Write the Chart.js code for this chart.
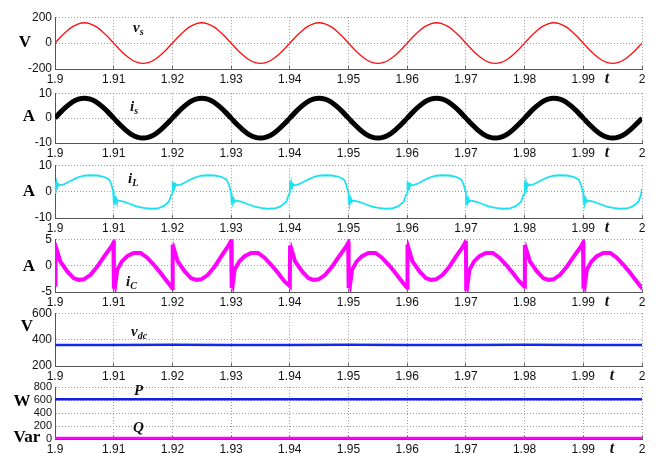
<!DOCTYPE html>
<html>
<head>
<meta charset="utf-8">
<script src="https://cdn.jsdelivr.net/npm/chart.js@4.4.0/dist/chart.umd.min.js"></script>
<style>
body { margin: 0; background: #fff; }
#wrap { position: relative; width: 658px; height: 453px; overflow: hidden; background: #fff; }
#wrap canvas { position: absolute; left: 0; }
.lbl { position: absolute; font-family: "Liberation Serif", "Times New Roman", serif; font-weight: bold; color: #000; white-space: nowrap; line-height: 1; }
.unit { font-size: 17px; transform: translate(-50%, -50%); }
.sym { font-style: italic; font-size: 15px; transform: translateY(-50%); color: #111; }
.sym sub { font-size: 10px; vertical-align: -3px; line-height: 1; }
.tt { font-style: italic; font-size: 16px; transform: translate(-50%, -50%); color: #111; }
</style>
</head>
<body>
<div id="wrap">
  <div class="lbl unit" style="left:25px;top:41px">V</div>
  <div class="lbl unit" style="left:29px;top:115px">A</div>
  <div class="lbl unit" style="left:29px;top:190px">A</div>
  <div class="lbl unit" style="left:29px;top:265px">A</div>
  <div class="lbl unit" style="left:27px;top:325px">V</div>
  <div class="lbl unit" style="left:22px;top:400px">W</div>
  <div class="lbl unit" style="left:27px;top:436px">Var</div>

  <div class="lbl sym" style="left:133px;top:28px">v<sub>s</sub></div>
  <div class="lbl sym" style="left:130px;top:107px">i<sub>s</sub></div>
  <div class="lbl sym" style="left:128px;top:179px">i<sub>L</sub></div>
  <div class="lbl sym" style="left:126px;top:282px">i<sub>C</sub></div>
  <div class="lbl sym" style="left:131px;top:332px">v<sub>dc</sub></div>
  <div class="lbl sym" style="left:134px;top:390px">P</div>
  <div class="lbl sym" style="left:133px;top:427px">Q</div>

  <div class="lbl tt" style="left:607px;top:78px">t</div>
  <div class="lbl tt" style="left:607px;top:152px">t</div>
  <div class="lbl tt" style="left:607px;top:227px">t</div>
  <div class="lbl tt" style="left:607px;top:301px">t</div>
  <div class="lbl tt" style="left:612px;top:375px">t</div>
  <div class="lbl tt" style="left:612px;top:448px">t</div>
</div>
<script>
// x axis (time, s)
const xTicks = [1.9, 1.91, 1.92, 1.93, 1.94, 1.95, 1.96, 1.97, 1.98, 1.99, 2.0];
const xTickLabels = ['1.9', '1.91', '1.92', '1.93', '1.94', '1.95', '1.96', '1.97', '1.98', '1.99', '2'];

// y ticks per panel
const vsTicks = [-200, 0, 200];
const isTicks = [-10, 0, 10];
const iLTicks = [-10, 0, 10];
const iCTicks = [-5, 0, 5];
const vdcTicks = [200, 400, 600];
const pqTicks = [0, 200, 400, 600, 800];

// sampled every 1 ms
const t = [
  1.9, 1.901, 1.902, 1.903, 1.904, 1.905, 1.906, 1.907, 1.908, 1.909,
  1.91, 1.911, 1.912, 1.913, 1.914, 1.915, 1.916, 1.917, 1.918, 1.919,
  1.92, 1.921, 1.922, 1.923, 1.924, 1.925, 1.926, 1.927, 1.928, 1.929,
  1.93, 1.931, 1.932, 1.933, 1.934, 1.935, 1.936, 1.937, 1.938, 1.939,
  1.94, 1.941, 1.942, 1.943, 1.944, 1.945, 1.946, 1.947, 1.948, 1.949,
  1.95, 1.951, 1.952, 1.953, 1.954, 1.955, 1.956, 1.957, 1.958, 1.959,
  1.96, 1.961, 1.962, 1.963, 1.964, 1.965, 1.966, 1.967, 1.968, 1.969,
  1.97, 1.971, 1.972, 1.973, 1.974, 1.975, 1.976, 1.977, 1.978, 1.979,
  1.98, 1.981, 1.982, 1.983, 1.984, 1.985, 1.986, 1.987, 1.988, 1.989,
  1.99, 1.991, 1.992, 1.993, 1.994, 1.995, 1.996, 1.997, 1.998, 1.999,
  2.0
];

const vs = [
  0, 49, 92, 127, 149, 157, 149, 127, 92, 49, 0, -49, -92, -127, -149, -157, -149, -127, -92, -49,
  0, 49, 92, 127, 149, 157, 149, 127, 92, 49, 0, -49, -92, -127, -149, -157, -149, -127, -92, -49,
  0, 49, 92, 127, 149, 157, 149, 127, 92, 49, 0, -49, -92, -127, -149, -157, -149, -127, -92, -49,
  0, 49, 92, 127, 149, 157, 149, 127, 92, 49, 0, -49, -92, -127, -149, -157, -149, -127, -92, -49,
  0, 49, 92, 127, 149, 157, 149, 127, 92, 49, 0, -49, -92, -127, -149, -157, -149, -127, -92, -49,
  0
];

const is = [
  0, 2.5, 4.7, 6.5, 7.6, 8, 7.6, 6.5, 4.7, 2.5, 0, -2.5, -4.7, -6.5, -7.6, -8, -7.6, -6.5, -4.7, -2.5,
  0, 2.5, 4.7, 6.5, 7.6, 8, 7.6, 6.5, 4.7, 2.5, 0, -2.5, -4.7, -6.5, -7.6, -8, -7.6, -6.5, -4.7, -2.5,
  0, 2.5, 4.7, 6.5, 7.6, 8, 7.6, 6.5, 4.7, 2.5, 0, -2.5, -4.7, -6.5, -7.6, -8, -7.6, -6.5, -4.7, -2.5,
  0, 2.5, 4.7, 6.5, 7.6, 8, 7.6, 6.5, 4.7, 2.5, 0, -2.5, -4.7, -6.5, -7.6, -8, -7.6, -6.5, -4.7, -2.5,
  0, 2.5, 4.7, 6.5, 7.6, 8, 7.6, 6.5, 4.7, 2.5, 0, -2.5, -4.7, -6.5, -7.6, -8, -7.6, -6.5, -4.7, -2.5,
  0
];

// load current, denser around the switching instants
const tL = [
  1.9, 1.90005, 1.90015, 1.90025, 1.9004, 1.90055, 1.90075, 1.9015, 1.9026, 1.9037, 1.9049, 1.906, 1.9072, 1.9083, 1.9092, 1.9096, 1.9099,
  1.91, 1.91005, 1.91015, 1.91025, 1.9104, 1.91055, 1.91075, 1.9117, 1.9128, 1.914, 1.9151, 1.9162, 1.9174, 1.9185, 1.9194, 1.9198,
  1.92, 1.92005, 1.92015, 1.92025, 1.9204, 1.92055, 1.92075, 1.9215, 1.9226, 1.9237, 1.9249, 1.926, 1.9272, 1.9283, 1.9292, 1.9296, 1.9299,
  1.93, 1.93005, 1.93015, 1.93025, 1.9304, 1.93055, 1.93075, 1.9317, 1.9328, 1.934, 1.9351, 1.9362, 1.9374, 1.9385, 1.9394, 1.9398,
  1.94, 1.94005, 1.94015, 1.94025, 1.9404, 1.94055, 1.94075, 1.9415, 1.9426, 1.9437, 1.9449, 1.946, 1.9472, 1.9483, 1.9492, 1.9496, 1.9499,
  1.95, 1.95005, 1.95015, 1.95025, 1.9504, 1.95055, 1.95075, 1.9517, 1.9528, 1.954, 1.9551, 1.9562, 1.9574, 1.9585, 1.9594, 1.9598,
  1.96, 1.96005, 1.96015, 1.96025, 1.9604, 1.96055, 1.96075, 1.9615, 1.9626, 1.9637, 1.9649, 1.966, 1.9672, 1.9683, 1.9692, 1.9696, 1.9699,
  1.97, 1.97005, 1.97015, 1.97025, 1.9704, 1.97055, 1.97075, 1.9717, 1.9728, 1.974, 1.9751, 1.9762, 1.9774, 1.9785, 1.9794, 1.9798,
  1.98, 1.98005, 1.98015, 1.98025, 1.9804, 1.98055, 1.98075, 1.9815, 1.9826, 1.9837, 1.9849, 1.986, 1.9872, 1.9883, 1.9892, 1.9896, 1.9899,
  1.99, 1.99005, 1.99015, 1.99025, 1.9904, 1.99055, 1.99075, 1.9917, 1.9928, 1.994, 1.9951, 1.9962, 1.9974, 1.9985, 1.9994, 1.9998,
  2.0
];
const iL = [
  -0.5, 3.8, 0.8, 3.4, 1.6, 2.9, 2.4, 2.7, 4.0, 5.2, 6.0, 6.2, 6.1, 5.6, 4.6, 2.8, 0.3,
  -0.5, -4.6, -1.8, -4.2, -2.6, -3.9, -3.4, -3.8, -4.7, -5.7, -6.2, -6.5, -6.4, -5.5, -3.8, -1.3,
  -0.5, 3.8, 0.8, 3.4, 1.6, 2.9, 2.4, 2.7, 4.0, 5.2, 6.0, 6.2, 6.1, 5.6, 4.6, 2.8, 0.3,
  -0.5, -4.6, -1.8, -4.2, -2.6, -3.9, -3.4, -3.8, -4.7, -5.7, -6.2, -6.5, -6.4, -5.5, -3.8, -1.3,
  -0.5, 3.8, 0.8, 3.4, 1.6, 2.9, 2.4, 2.7, 4.0, 5.2, 6.0, 6.2, 6.1, 5.6, 4.6, 2.8, 0.3,
  -0.5, -4.6, -1.8, -4.2, -2.6, -3.9, -3.4, -3.8, -4.7, -5.7, -6.2, -6.5, -6.4, -5.5, -3.8, -1.3,
  -0.5, 3.8, 0.8, 3.4, 1.6, 2.9, 2.4, 2.7, 4.0, 5.2, 6.0, 6.2, 6.1, 5.6, 4.6, 2.8, 0.3,
  -0.5, -4.6, -1.8, -4.2, -2.6, -3.9, -3.4, -3.8, -4.7, -5.7, -6.2, -6.5, -6.4, -5.5, -3.8, -1.3,
  -0.5, 3.8, 0.8, 3.4, 1.6, 2.9, 2.4, 2.7, 4.0, 5.2, 6.0, 6.2, 6.1, 5.6, 4.6, 2.8, 0.3,
  -0.5, -4.6, -1.8, -4.2, -2.6, -3.9, -3.4, -3.8, -4.7, -5.7, -6.2, -6.5, -6.4, -5.5, -3.8, -1.3,
  1.0
];

// filter (capacitor) current
const tC = [
  1.9, 1.90005, 1.90015, 1.9003, 1.9009, 1.9021, 1.9032, 1.9041, 1.9049, 1.906, 1.9072, 1.9083, 1.9092, 1.9097, 1.90995,
  1.91, 1.91005, 1.91015, 1.9103, 1.9106, 1.9114, 1.9123, 1.9134, 1.9146, 1.9157, 1.9168, 1.918, 1.9191, 1.9198,
  1.92, 1.92005, 1.92015, 1.9203, 1.9209, 1.9221, 1.9232, 1.9241, 1.9249, 1.926, 1.9272, 1.9283, 1.9292, 1.9297, 1.92995,
  1.93, 1.93005, 1.93015, 1.9303, 1.9306, 1.9314, 1.9323, 1.9334, 1.9346, 1.9357, 1.9368, 1.938, 1.9391, 1.9398,
  1.94, 1.94005, 1.94015, 1.9403, 1.9409, 1.9421, 1.9432, 1.9441, 1.9449, 1.946, 1.9472, 1.9483, 1.9492, 1.9497, 1.94995,
  1.95, 1.95005, 1.95015, 1.9503, 1.9506, 1.9514, 1.9523, 1.9534, 1.9546, 1.9557, 1.9568, 1.958, 1.9591, 1.9598,
  1.96, 1.96005, 1.96015, 1.9603, 1.9609, 1.9621, 1.9632, 1.9641, 1.9649, 1.966, 1.9672, 1.9683, 1.9692, 1.9697, 1.96995,
  1.97, 1.97005, 1.97015, 1.9703, 1.9706, 1.9714, 1.9723, 1.9734, 1.9746, 1.9757, 1.9768, 1.978, 1.9791, 1.9798,
  1.98, 1.98005, 1.98015, 1.9803, 1.9809, 1.9821, 1.9832, 1.9841, 1.9849, 1.986, 1.9872, 1.9883, 1.9892, 1.9897, 1.98995,
  1.99, 1.99005, 1.99015, 1.9903, 1.9906, 1.9914, 1.9923, 1.9934, 1.9946, 1.9957, 1.9968, 1.998, 1.9991, 1.9998,
  2.0
];
const iC = [
  -3.6, 4.0, 2.0, 3.0, 0.8, -1.1, -2.4, -2.7, -2.6, -1.8, -0.2, 1.6, 3.0, 3.8, 4.3,
  4.5, -4.4, -2.5, -3.4, -0.8, 0.8, 1.8, 2.4, 2.4, 1.5, 0.2, -1.4, -3.0, -4.0,
  -4.3, 4.0, 2.0, 3.0, 0.8, -1.1, -2.4, -2.7, -2.6, -1.8, -0.2, 1.7, 3.2, 4.1, 4.6,
  4.8, -4.3, -2.5, -3.4, -0.8, 0.8, 1.8, 2.4, 2.4, 1.5, 0.2, -1.4, -3.0, -3.7,
  -3.9, 3.8, 2.0, 3.0, 0.8, -1.1, -2.4, -2.7, -2.6, -1.8, -0.2, 1.6, 3.0, 3.8, 4.3,
  4.5, -4.3, -2.5, -3.4, -0.8, 0.8, 1.8, 2.4, 2.4, 1.5, 0.2, -1.4, -3.0, -4.0,
  -4.2, 4.0, 2.0, 3.0, 0.8, -1.1, -2.4, -2.7, -2.6, -1.8, -0.2, 1.7, 3.1, 4.0, 4.5,
  4.7, -4.4, -2.5, -3.4, -0.8, 0.8, 1.8, 2.4, 2.4, 1.5, 0.2, -1.4, -3.0, -3.8,
  -4.0, 3.9, 2.0, 3.0, 0.8, -1.1, -2.4, -2.7, -2.6, -1.8, -0.2, 1.6, 3.0, 3.8, 4.3,
  4.5, -4.4, -2.5, -3.4, -0.8, 0.8, 1.8, 2.4, 2.4, 1.5, 0.2, -1.4, -3.0, -4.0,
  -3.6
];

// slow quantities, sampled every 10 ms
const tSlow = [1.9, 1.91, 1.92, 1.93, 1.94, 1.95, 1.96, 1.97, 1.98, 1.99, 2.0];
const vdc = [360, 359, 361, 360, 359, 361, 360, 359, 361, 360, 360];
const P = [610, 610, 610, 610, 610, 610, 610, 610, 610, 610, 610];
const Q = [12, 12, 12, 12, 12, 12, 12, 12, 12, 12, 12];

const wrap = document.getElementById('wrap');
const tickFont = { family: '"Liberation Sans", Arial, sans-serif', size: 12 };

function pts(xs, ys) {
  return xs.map((x, i) => ({ x: x, y: ys[i] }));
}

function line(xs, ys, color, width, smooth) {
  return {
    data: pts(xs, ys),
    borderColor: color,
    borderWidth: width,
    pointRadius: 0,
    fill: false,
    cubicInterpolationMode: smooth ? 'monotone' : 'default',
    tension: 0
  };
}

function panel(top, bottom, yTicks, ySize, datasets) {
  const padTop = 10, axisH = 24;
  const c = document.createElement('canvas');
  c.width = 658;
  c.height = bottom - top + padTop + axisH;
  c.style.top = (top - padTop) + 'px';
  wrap.insertBefore(c, wrap.firstChild);

  new Chart(c, {
    type: 'line',
    data: { datasets: datasets },
    options: {
      responsive: false,
      animation: false,
      devicePixelRatio: 1,
      layout: { padding: { top: padTop, right: 16, left: 0, bottom: 0 } },
      plugins: { legend: { display: false }, tooltip: { enabled: false } },
      scales: {
        x: {
          type: 'linear',
          min: 1.9,
          max: 2,
          afterBuildTicks: s => { s.ticks = xTicks.map(v => ({ value: v })); },
          afterFit: s => { s.height = axisH; },
          ticks: {
            callback: (v, i) => xTickLabels[i],
            font: tickFont,
            color: '#111',
            padding: 6,
            maxRotation: 0,
            autoSkip: false
          },
          grid: { color: '#9a9a9a', lineWidth: 1, drawTicks: true, tickLength: -3, tickColor: '#666' },
          border: { display: true, color: '#555', width: 1, dash: [1, 2] }
        },
        y: {
          type: 'linear',
          min: yTicks[0],
          max: yTicks[yTicks.length - 1],
          afterBuildTicks: s => { s.ticks = yTicks.map(v => ({ value: v })); },
          afterFit: s => { s.width = 55; },
          ticks: {
            callback: v => String(v),
            font: { family: tickFont.family, size: ySize },
            color: '#111',
            padding: 3,
            autoSkip: false
          },
          grid: { color: '#9a9a9a', lineWidth: 1, drawTicks: false },
          border: { display: true, color: '#555', width: 1, dash: [1, 2] }
        }
      }
    }
  });
}

panel(17, 69, vsTicks, 12, [line(t, vs, '#ff1010', 1.3, true)]);
panel(93, 143, isTicks, 12, [line(t, is, '#000000', 5, true)]);
panel(165, 218, iLTicks, 12, [line(tL, iL, 'rgb(30,225,240)', 1.8, false)]);
panel(239, 292, iCTicks, 12, [line(tC, iC, '#ff00ff', 4, false)]);
panel(313, 366, vdcTicks, 12, [line(tSlow, vdc, 'rgb(20,40,235)', 2.5, false)]);
panel(387, 439, pqTicks, 11, [
  line(tSlow, P, 'rgb(20,30,225)', 2.5, false),
  line(tSlow, Q, '#ff00ff', 3, false)
]);
</script>
</body>
</html>
